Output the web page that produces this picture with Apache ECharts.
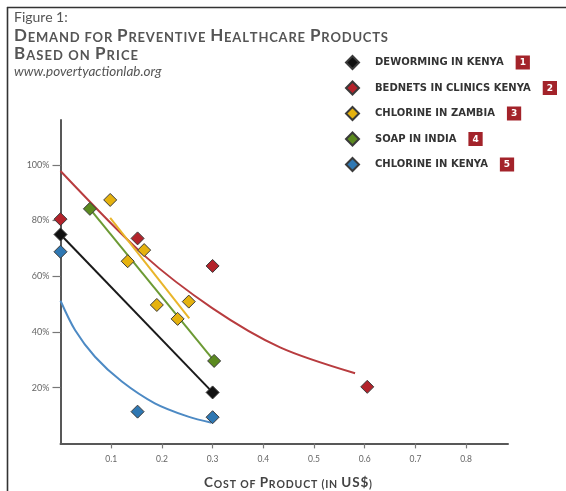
<!DOCTYPE html>
<html>
<head>
<meta charset="utf-8">
<script src="https://cdn.jsdelivr.net/npm/echarts@6/dist/echarts.min.js"></script>
<style>html,body{margin:0;padding:0;background:#fff;}#c{width:566px;height:491px;}</style>
</head>
<body>
<div id="c"></div>
<script>
// ---- data ----
const seriesNames = ['DEWORMING IN KENYA','BEDNETS IN CLINICS KENYA','CHLORINE IN ZAMBIA','SOAP IN INDIA','CHLORINE IN KENYA'];
const seriesNums = ['1','2','3','4','5'];
const seriesColors = ['#111111','#b3232b','#e5b20f','#5b8a1f','#2f78b3'];
const lineColors = ['#1a1a1a','#b83c3f','#e9b52a','#6c9a34','#4d8ac4'];

const dewormX = [0, 0.30];
const dewormY = [75, 18.3];
const bednetsX = [0, 0.152, 0.30, 0.605];
const bednetsY = [80.5, 73.6, 63.7, 20.3];
const zambiaX = [0.098, 0.1325, 0.165, 0.19, 0.231, 0.253];
const zambiaY = [87.4, 65.4, 69.4, 49.7, 44.7, 50.9];
const soapX = [0.058, 0.303];
const soapY = [84.2, 29.6];
const kenyaClX = [0, 0.152, 0.30];
const kenyaClY = [68.8, 11.4, 9.4];

// fitted demand curves as drawn
const dewormFitX = [0, 0.30];
const dewormFitY = [75, 18.3];
const bednetsFitX = [0, 0.165, 0.3, 0.433, 0.581];
const bednetsFitY = [97.8, 67.5, 48.5, 34.5, 25.2];
const zambiaFitX = [0.098, 0.254];
const zambiaFitY = [81, 44.9];
const soapFitX = [0.058, 0.303];
const soapFitY = [84.2, 29.6];
const kenyaClFitX = [0, 0.0286, 0.068, 0.121, 0.186, 0.252, 0.298];
const kenyaClFitY = [51.2, 40.7, 31.1, 22.2, 14.4, 9.6, 7.4];

const xTicks = [0.1,0.2,0.3,0.4,0.5,0.6,0.7,0.8];
const yTicks = [20,40,60,80,100];

const titleLine1 = 'Demand for Preventive Healthcare Products';
const titleLine2 = 'Based on Price';
const xAxisTitle = 'Cost of Product (in US$)';

const pointsX = [dewormX, bednetsX, zambiaX, soapX, kenyaClX];
const pointsY = [dewormY, bednetsY, zambiaY, soapY, kenyaClY];
const fitX = [dewormFitX, bednetsFitX, zambiaFitX, soapFitX, kenyaClFitX];
const fitY = [dewormFitY, bednetsFitY, zambiaFitY, soapFitY, kenyaClFitY];

const zip = (a, b) => a.map((v, i) => [v, b[i]]);
const FONT = 'Lato';

const series = [];
fitX.forEach((fx, i) => {
  series.push({
    type: 'line', name: 'fit' + i, data: zip(fx, fitY[i]),
    smooth: fx.length > 2 ? 0.3 : false, symbol: 'none', silent: true,
    lineStyle: { color: lineColors[i], width: 2 }, z: 2
  });
});
pointsX.forEach((px, i) => {
  series.push({
    type: 'scatter', name: seriesNames[i], data: zip(px, pointsY[i]),
    symbol: 'diamond', symbolSize: 13,
    itemStyle: { color: seriesColors[i], borderColor: '#3a3a3a', borderWidth: 1, opacity: 1 }, z: 5
  });
});

// small-caps text with letter spacing fitted to a target width
const mctx = document.createElement('canvas').getContext('2d');
function measure(t, size, weight) { mctx.font = 'normal ' + weight + ' ' + size + 'px ' + FONT; return mctx.measureText(t).width; }
function smallCaps(str, big, small, targetW, color, weight) {
  const chars = [];
  for (const c of str) {
    const isBig = (c === '$') || (/[A-Z]/.test(c));
    chars.push({ c: c.toUpperCase(), big: isBig });
  }
  let w = 0;
  chars.forEach(o => { w += measure(o.c, o.big ? big : small, weight); });
  const ls = Math.max(0, (targetW - w) / (chars.length - 1));
  const text = chars.map(o => '{' + (o.big ? 'b' : 's') + '|' + o.c + '}').join('');
  const rich = {
    b: { fontFamily: FONT, fontSize: big, fontWeight: weight, color: color, verticalAlign: 'bottom', padding: [0, ls, 0, 0] },
    s: { fontFamily: FONT, fontSize: small, fontWeight: weight, color: color, verticalAlign: 'bottom', padding: [0, ls, 0, 0] }
  };
  return { text, rich };
}
const t1 = smallCaps(titleLine1, 17, 13, 374, '#555', 'bold');
const t2 = smallCaps(titleLine2, 17, 13, 124, '#555', 'bold');
const xt = smallCaps(xAxisTitle, 13.5, 10.5, 168, '#444', 'bold');

const chart = echarts.init(document.getElementById('c'), null, { renderer: 'canvas' });
chart.setOption({
  animation: false,
  backgroundColor: '#ffffff',
  grid: { left: 60.5, right: 58, top: 120, bottom: 47.6, containLabel: false },
  xAxis: {
    type: 'value', min: 0, max: 0.8826,
    axisLine: { show: true, lineStyle: { color: '#585858', width: 2 } },
    axisTick: { show: true, length: 5, customValues: xTicks, lineStyle: { color: '#777', width: 1.2 } },
    axisLabel: { customValues: xTicks, margin: 11, color: '#666', fontSize: 8.5, fontFamily: FONT,
      formatter: v => String(Math.round(v * 10) / 10) },
    splitLine: { show: false }
  },
  yAxis: {
    type: 'value', min: 0, max: 116.1,
    axisLine: { show: true, lineStyle: { color: '#585858', width: 2 } },
    axisTick: { show: true, length: 8, customValues: yTicks, lineStyle: { color: '#777', width: 1.2 } },
    axisLabel: { customValues: yTicks, margin: 11, color: '#666', fontSize: 9, fontFamily: FONT,
      formatter: v => Math.round(v) + '%' },
    splitLine: { show: false }
  },
  legend: {
    orient: 'vertical', left: 340, top: 50, itemWidth: 13, itemHeight: 13, itemGap: 10.5,
    icon: 'diamond', data: seriesNames, selectedMode: false,
    formatter: name => '{t|' + name + '}{n|' + seriesNums[seriesNames.indexOf(name)] + '}',
    textStyle: {
      padding: [0, 0, 0, 11],
      rich: {
        t: { fontFamily: 'DejaVu Sans', fontWeight: 'bold', fontSize: 10, color: '#333', padding: [0, 12, 0, 0] },
        n: { fontFamily: 'DejaVu Sans', fontWeight: 'bold', fontSize: 9, color: '#fff', backgroundColor: '#a3232a', padding: [3, 4, 2, 4] }
      }
    }
  },
  title: [
    { text: 'Figure 1:', left: 14, top: 10, padding: 0, textStyle: { fontFamily: FONT, fontSize: 14, fontWeight: 'normal', color: '#555' } },
    { text: t1.text, left: 14, top: 27, padding: 0, textStyle: { rich: t1.rich } },
    { text: t2.text, left: 14, top: 45, padding: 0, textStyle: { rich: t2.rich } },
    { text: 'www.povertyactionlab.org', left: 14, top: 65, padding: 0,
      textStyle: { fontFamily: FONT, fontSize: 13.5, fontStyle: 'italic', fontWeight: 'normal', color: '#555' } },
    { text: xt.text, left: 204, top: 476, padding: 0, textStyle: { rich: xt.rich } }
  ],
  graphic: [
    { type: 'line', shape: { x1: 7, y1: 7.5, x2: 566, y2: 7.5 }, style: { stroke: '#333', lineWidth: 1.6 } },
    { type: 'line', shape: { x1: 7.5, y1: 7, x2: 7.5, y2: 491 }, style: { stroke: '#333', lineWidth: 1.6 } }
  ],
  series: series
});
</script>
</body>
</html>
